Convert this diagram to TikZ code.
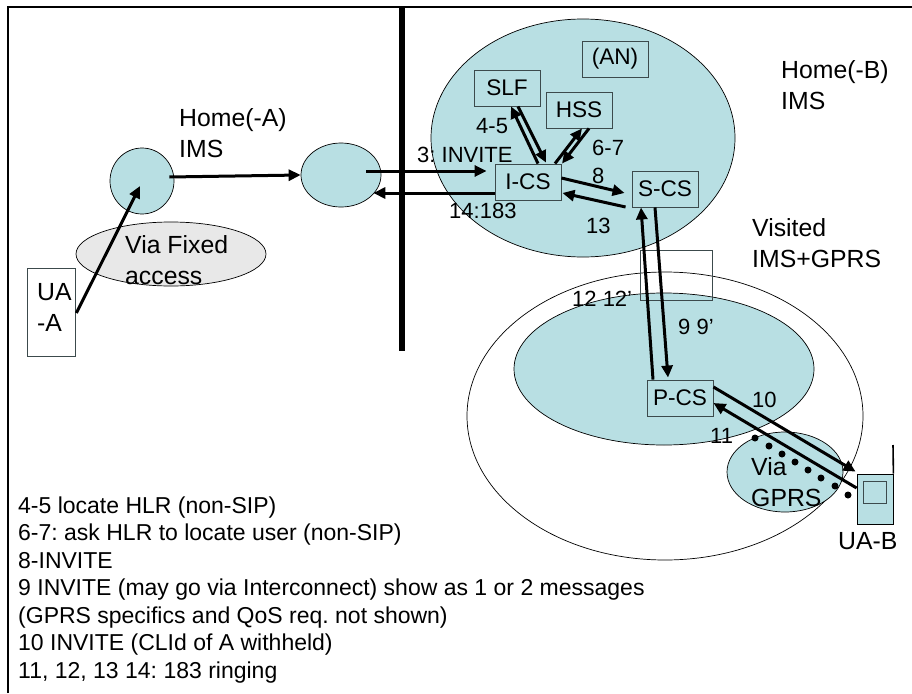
\documentclass[tikz,border=0pt]{standalone}
\usepackage{fontspec}
\setmainfont{Liberation Sans}
\usetikzlibrary{shapes.geometric,arrows.meta}
\frenchspacing
\definecolor{imsteal}{HTML}{B8DFE3}
\definecolor{accessgray}{HTML}{E8E8E8}
\definecolor{boxline}{HTML}{3C4A4C}
\tikzset{
  ims/.style={ellipse,draw=black,line width=.7pt,fill=imsteal,inner sep=0pt},
  csbox/.style={rectangle,draw=boxline,line width=.9pt,inner sep=0pt,minimum width=66pt,minimum height=36pt,font=\fontsize{22.6}{27}\selectfont},
  lbl/.style={inner sep=0pt,anchor=base west,font=\fontsize{22}{27}\selectfont},
  biglbl/.style={inner sep=0pt,align=left,anchor=base west,font=\fontsize{24.8}{30.5}\selectfont},
  msg/.style={line width=3pt,-{Triangle[length=12pt,width=11pt]}},
  dot/.style={circle,fill=black,inner sep=0pt,minimum size=7pt}
}
\begin{document}
\begin{tikzpicture}
  [x=1pt,y=-1pt]
  \useasboundingbox (0,0) rectangle (912,693);
  % frame
  \coordinate (framea) at (8,693);
  \coordinate (frameb) at (8,7);
  \coordinate (framec) at (912,7);
  \draw[line width=1.4pt] (framea) -- (frameb) -- (framec);

  \node[ims,minimum width=64pt,minimum height=66pt] (homea) at (142,181) {};
  \node[ims,minimum width=80pt,minimum height=64pt] (gwa) at (341,175) {};
  \node[ims,fill=accessgray,minimum width=190pt,minimum height=64pt] (fixed) at (171,254) {};
  \node[ims,minimum width=304pt,minimum height=238pt] (homeb) at (583,138) {};
  \node[ellipse,draw=black,line width=.7pt,inner sep=0pt,minimum width=396pt,minimum height=288pt] (visited) at (665,416) {};
  \node[ims,minimum width=300pt,minimum height=152pt] (visitedcore) at (664,369) {};
  \node[ims,minimum width=116pt,minimum height=80pt] (viagprs) at (785,472) {};
  \node[draw=boxline,line width=.7pt,inner sep=0pt,minimum width=72pt,minimum height=50pt] (window) at (676,275) {};

  \node[csbox] (slf) at (507,88) {SLF};
  \node[csbox] (an) at (615,59) {(AN)};
  \node[csbox] (hss) at (579,110) {HSS};
  \node[csbox] (ics) at (528,182) {I-CS};
  \node[csbox] (scs) at (665,189) {S-CS};
  \node[csbox] (pcs) at (680,398) {P-CS};

  \node[draw=boxline,line width=.8pt,inner sep=0pt,minimum width=48pt,minimum height=88pt] (uaa) at (51,312) {};
  \node[draw=black,fill=imsteal,line width=.8pt,inner sep=0pt,minimum width=36pt,minimum height=50pt] (uab) at (875,499) {};
  \node[draw=boxline,line width=.8pt,inner sep=0pt,minimum width=23pt,minimum height=22pt] (screen) at (874.5,492) {};
  \coordinate (antenna) at (893,445);
  \draw[line width=1.6pt] (uab.north east) -- (antenna);

  % border between the two operators
  \coordinate (bordertop) at (402,7);
  \coordinate (borderend) at (402,351);
  \draw[line width=6pt] (bordertop) -- (borderend);

  \foreach \x/\y/\n in {755/438/1,769/446/2,782/454/3,795/462/4,808/470/5,821/478/6,835/486/7,848/495/8}
    \node[dot] (d\n) at (\x,\y) {};

  \draw[msg] ([xshift=1pt,yshift=-1pt]uaa.east) -- ([xshift=-2pt,yshift=-5pt]homea.center);
  \draw[msg] ([xshift=-5pt,yshift=4pt]homea.east) -- (gwa.west);
  \draw[msg] ([xshift=-15pt,yshift=4pt]gwa.east) -- ([xshift=-8pt,yshift=11pt]ics.west);
  \draw[msg] ([yshift=-11pt]ics.west) -- ([xshift=-8pt,yshift=-18pt]gwa.east);

  \draw[msg] ([xshift=10pt]ics.north) -- ([xshift=4pt]slf.south);
  \draw[msg] ([xshift=11pt]slf.south) -- ([xshift=18pt,yshift=1pt]ics.north);
  \draw[msg] ([xshift=27pt]ics.north) -- ([xshift=3pt]hss.south);
  \draw[msg] ([xshift=10pt]hss.south) -- ([xshift=34pt]ics.north);
  \draw[msg] ([yshift=4pt]ics.east) -- ([xshift=-7pt,yshift=-4pt]scs.west);
  \draw[msg] ([xshift=-6pt,yshift=-18pt]scs.west) -- ([xshift=1pt,yshift=-11pt]ics.east);

  \draw[msg] ([xshift=-27pt]pcs.north) -- ([xshift=-24pt]scs.south);
  \draw[msg] ([xshift=-10pt]scs.south) -- ([xshift=-12pt,yshift=2pt]pcs.north);
  \draw[msg] ([yshift=11pt]pcs.east) -- ([xshift=-1pt,yshift=2pt]uab.north west);
  \draw[msg] ([yshift=11pt]uab.west) -- ([yshift=-5pt]pcs.east);

  \node[biglbl] (lhomea) at (179,157) {Home(-A)\\IMS};
  \node[biglbl] (lhomeb) at (781,109) {Home(-B)\\IMS};
  \node[biglbl] (lvisited) at (752,267) {Visited\\IMS+GPRS};
  \node[biglbl] (lfixed) at (125,284) {Via Fixed\\access};
  \node[biglbl] (lgprs) at (751,506) {Via\\GPRS};
  \node[biglbl] (luab) at (838,549) {UA-B};
  \node[biglbl] (luaa) at (37,331) {UA\\-A};
  \node[lbl] (l3) at (417,162) {3: INVITE};
  \node[lbl] (l14) at (449,218) {14:183};
  \node[lbl] (l45) at (476,133) {4-5};
  \node[lbl] (l67) at (592,155) {6-7};
  \node[lbl] (l8) at (592,183) {8};
  \node[lbl] (l13) at (586,233) {13};
  \node[lbl] (l12) at (572,306) {12 12’};
  \node[lbl] (l9) at (678,334) {9 9’};
  \node[lbl] (l10) at (752,407) {10};
  \node[lbl] (l11) at (710,443) {11};
  \node[inner sep=0pt,align=left,anchor=base west,font=\fontsize{23}{27.5}\selectfont] (legend) at (18,678) {4-5 locate HLR (non-SIP)\\
    6-7: ask HLR to locate user (non-SIP)\\
    8-INVITE\\
    9 INVITE (may go via Interconnect) show as 1 or 2 messages\\
    (GPRS specifics and QoS req. not shown)\\
    10 INVITE (CLId of A withheld)\\
    11, 12, 13 14: 183 ringing};
\end{tikzpicture}
\end{document}
